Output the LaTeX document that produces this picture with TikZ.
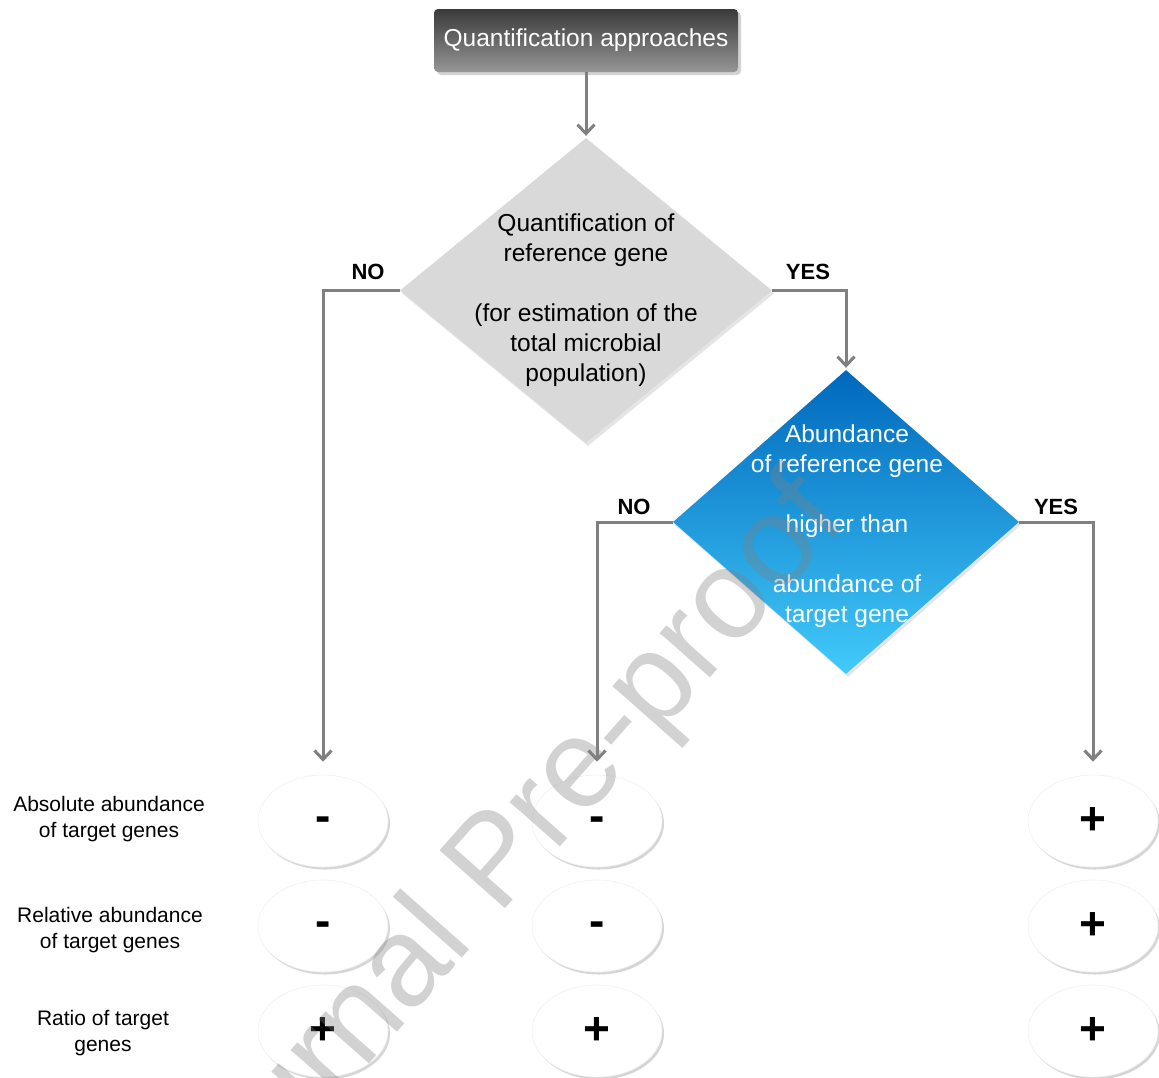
\documentclass[tikz,border=0pt]{standalone}
\usepackage{fontspec}
\setmainfont{Liberation Sans}
\usetikzlibrary{shapes.geometric,arrows.meta,shadows}
\definecolor{linegray}{RGB}{128,128,128}
\definecolor{diagray}{RGB}{217,217,217}
\definecolor{boxtop}{RGB}{58,58,58}
\definecolor{boxbot}{RGB}{150,150,150}
\definecolor{bluetop}{RGB}{0,104,188}
\definecolor{bluebot}{RGB}{66,202,250}
\begin{document}
\begin{tikzpicture}[x=1pt,y=-1pt,
  conn/.style={draw=linegray, line width=3pt, -{Straight Barb[length=9pt,width=17pt]}},
  topbox/.style={rectangle, rounded corners=4pt, minimum width=304pt, minimum height=63pt, inner sep=0pt,
    top color=boxtop, bottom color=boxbot, text=white, font=\fontsize{24.5}{28}\selectfont,
    drop shadow={opacity=0.35, shadow xshift=3pt, shadow yshift=-3pt}},
  decision/.style={diamond, inner sep=0pt,
    drop shadow={opacity=0.2, shadow xshift=2pt, shadow yshift=-3pt}},
  dtext/.style={align=center, font=\fontsize{24.5}{30}\selectfont},
  yesno/.style={font=\bfseries\fontsize{22}{26}\selectfont},
  result/.style={ellipse, minimum width=130pt, minimum height=92pt, inner sep=0pt, fill=white,
    draw=gray!12, line width=0.6pt,
    drop shadow={fill=gray!70, opacity=0.45, shadow xshift=2pt, shadow yshift=-2.5pt},
    font=\bfseries\fontsize{46}{50}\selectfont},
  rowlabel/.style={align=center, font=\fontsize{21}{26}\selectfont},
  wmark/.style={text=gray, opacity=0.35, font=\fontsize{127}{134}\selectfont, rotate=48.5}
]
\newcommand{\mns}{\raisebox{-3pt}[\height][0pt]{-}}
\useasboundingbox[fill=white] (0,0) rectangle (1159,1077);

% top box
\node[topbox] (top) at (586,40.5) {Quantification approaches};

% first decision
\node[decision, fill=diagray, minimum width=372pt, minimum height=305pt] (d1) at (586,290.5) {};
\node[dtext] (t1) at (586,300) {Quantification of\\reference gene\\[30pt](for estimation of the\\total microbial\\population)};

% second decision
\node[decision, top color=bluetop, bottom color=bluebot, minimum width=346pt, minimum height=304pt] (d2) at (846,522) {};
\node[dtext, text=white] (t2) at (847,526) {Abundance\\of reference gene\\[30pt]higher than\\[30pt]abundance of\\target gene};

% yes/no labels
\node[yesno] (no1) at (368,272) {NO};
\node[yesno] (yes1) at (808,272) {YES};
\node[yesno] (no2) at (634,507) {NO};
\node[yesno] (yes2) at (1056,507) {YES};

% results
\node[result] (e11) at (323,821) {\mns};
\node[result] (e12) at (323,926) {\mns};
\node[result] (e13) at (323,1031) {+};
\node[result] (e21) at (597,821) {\mns};
\node[result] (e22) at (597,926) {\mns};
\node[result] (e23) at (597,1031) {+};
\node[result] (e31) at (1093,821) {+};
\node[result] (e32) at (1093,926) {+};
\node[result] (e33) at (1093,1031) {+};

% row labels
\node[rowlabel] (r1) at (109,819.5) {Absolute abundance\\of target genes};
\node[rowlabel] (r2) at (110,930.5) {Relative abundance\\of target genes};
\node[rowlabel] (r3) at (103,1033.5) {Ratio of target\\genes};

% connectors
\draw[conn, shorten >=2pt] (top.south) -- (d1.north);
\draw[conn, shorten >=13pt] (d1.west) -| (e11.north);
\draw[conn, shorten >=2pt] (d1.east) -| (d2.north);
\draw[conn, shorten >=13pt] (d2.west) -| (e21.north);
\draw[conn, shorten >=13pt] (d2.east) -| (e31.north);

% watermark
\begin{scope}
\clip (0,0) rectangle (1159,1077);
\node[wmark] (wm) at (500,866) {Journal Pre-proof};
\end{scope}
\end{tikzpicture}
\end{document}
